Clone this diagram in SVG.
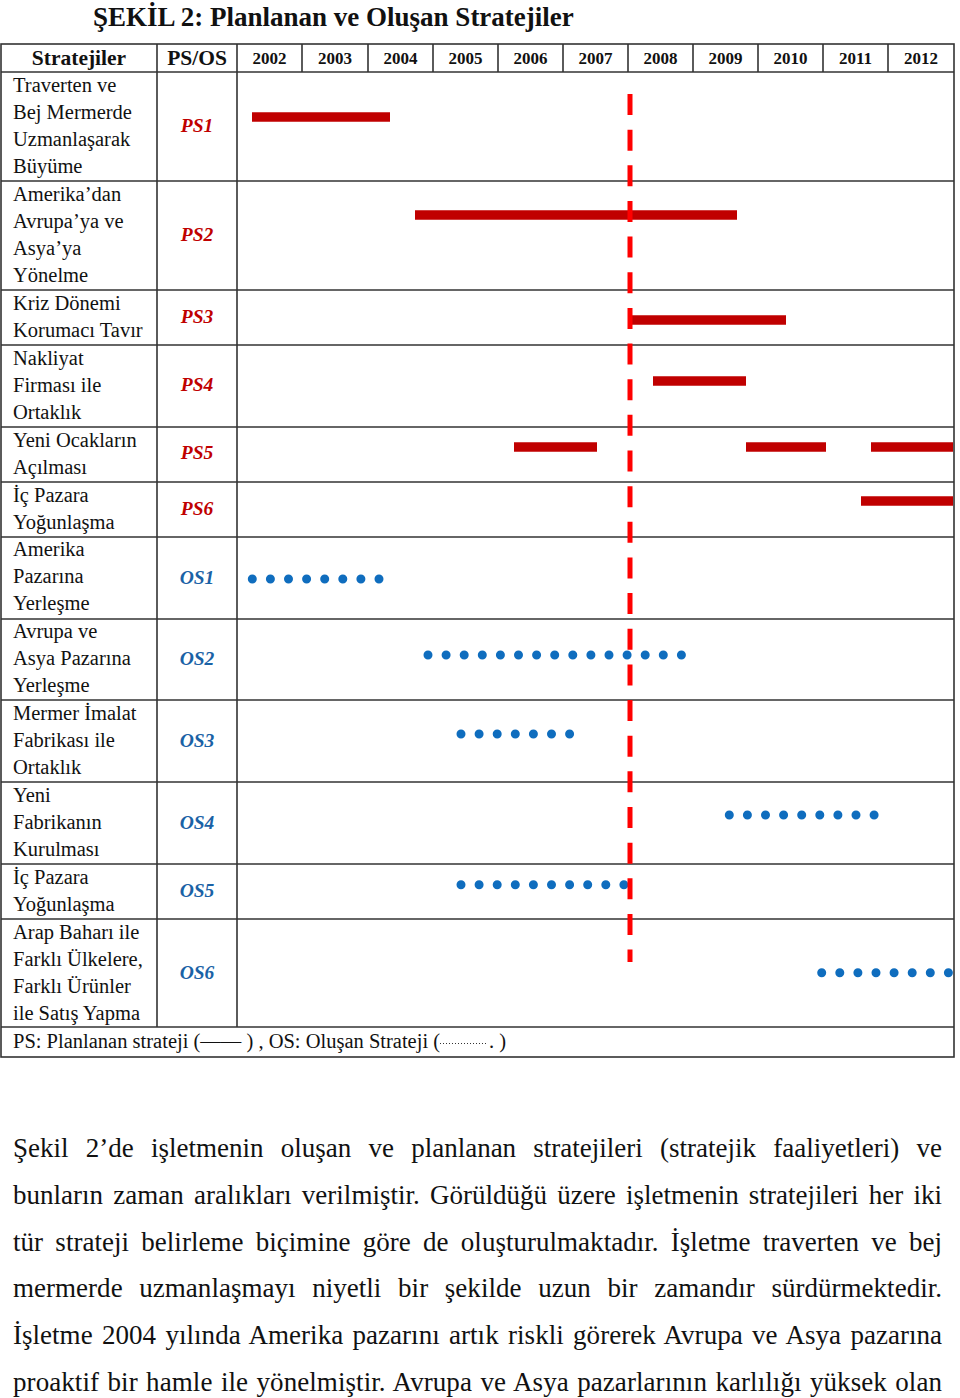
<svg xmlns="http://www.w3.org/2000/svg" width="960" height="1398" viewBox="0 0 960 1398">
<style>
.t{font-family:"Liberation Serif","Times New Roman",serif;fill:#111}
.title{font-size:27px;font-weight:bold}
.hd{font-size:21.5px;font-weight:bold;text-anchor:middle}
.yr{font-size:17px;font-weight:bold;text-anchor:middle}
.cell{font-size:20.5px}
.ps{font-size:19.5px;font-weight:bold;font-style:italic;text-anchor:middle;fill:#C00000}
.os{font-size:19.5px;font-weight:bold;font-style:italic;text-anchor:middle;fill:#1A62A6}
.grid{stroke:#333;stroke-width:1.6;fill:none}
.bar{stroke:#C00000;stroke-width:9.5}
.dots{stroke:#0F6DBE;stroke-width:9;stroke-linecap:round;stroke-dasharray:0 18.1}
.cut{stroke:#FF0000;stroke-width:5;stroke-dasharray:21 14.65}
.para{font-size:27px}
</style>
<text class="t title" x="93" y="26">ŞEKİL 2: Planlanan ve Oluşan Stratejiler</text>
<g id="table-grid">
<rect class="grid" x="1" y="44" width="953" height="1013"/>
<line class="grid" x1="1" y1="72" x2="954" y2="72"/>
<line class="grid" x1="157" y1="44" x2="157" y2="1027"/>
<line class="grid" x1="237" y1="44" x2="237" y2="1027"/>
<line class="grid" x1="302" y1="44" x2="302" y2="72"/>
<line class="grid" x1="368" y1="44" x2="368" y2="72"/>
<line class="grid" x1="433" y1="44" x2="433" y2="72"/>
<line class="grid" x1="498" y1="44" x2="498" y2="72"/>
<line class="grid" x1="563" y1="44" x2="563" y2="72"/>
<line class="grid" x1="628" y1="44" x2="628" y2="72"/>
<line class="grid" x1="693" y1="44" x2="693" y2="72"/>
<line class="grid" x1="758" y1="44" x2="758" y2="72"/>
<line class="grid" x1="823" y1="44" x2="823" y2="72"/>
<line class="grid" x1="888" y1="44" x2="888" y2="72"/>
<line class="grid" x1="1" y1="181" x2="954" y2="181"/>
<line class="grid" x1="1" y1="290" x2="954" y2="290"/>
<line class="grid" x1="1" y1="345" x2="954" y2="345"/>
<line class="grid" x1="1" y1="427" x2="954" y2="427"/>
<line class="grid" x1="1" y1="482" x2="954" y2="482"/>
<line class="grid" x1="1" y1="537" x2="954" y2="537"/>
<line class="grid" x1="1" y1="619" x2="954" y2="619"/>
<line class="grid" x1="1" y1="700" x2="954" y2="700"/>
<line class="grid" x1="1" y1="782" x2="954" y2="782"/>
<line class="grid" x1="1" y1="864" x2="954" y2="864"/>
<line class="grid" x1="1" y1="919" x2="954" y2="919"/>
<line class="grid" x1="1" y1="1027" x2="954" y2="1027"/>
</g>
<g id="header">
<text class="t hd" x="79" y="65">Stratejiler</text>
<text class="t hd" x="197" y="65">PS/OS</text>
<text class="t yr" x="269.5" y="64">2002</text>
<text class="t yr" x="335" y="64">2003</text>
<text class="t yr" x="400.5" y="64">2004</text>
<text class="t yr" x="465.5" y="64">2005</text>
<text class="t yr" x="530.5" y="64">2006</text>
<text class="t yr" x="595.5" y="64">2007</text>
<text class="t yr" x="660.5" y="64">2008</text>
<text class="t yr" x="725.5" y="64">2009</text>
<text class="t yr" x="790.5" y="64">2010</text>
<text class="t yr" x="855.5" y="64">2011</text>
<text class="t yr" x="921" y="64">2012</text>
</g>
<g id="row-ps1"><text class="t cell" x="13" y="92"><tspan x="13">Traverten ve</tspan><tspan x="13" dy="27">Bej Mermerde</tspan><tspan x="13" dy="27">Uzmanlaşarak</tspan><tspan x="13" dy="27">Büyüme</tspan></text><text class="t ps" x="197" y="132">PS1</text></g>
<g id="row-ps2"><text class="t cell" x="13" y="201"><tspan x="13">Amerika’dan</tspan><tspan x="13" dy="27">Avrupa’ya ve</tspan><tspan x="13" dy="27">Asya’ya</tspan><tspan x="13" dy="27">Yönelme</tspan></text><text class="t ps" x="197" y="241">PS2</text></g>
<g id="row-ps3"><text class="t cell" x="13" y="310"><tspan x="13">Kriz Dönemi</tspan><tspan x="13" dy="27">Korumacı Tavır</tspan></text><text class="t ps" x="197" y="323">PS3</text></g>
<g id="row-ps4"><text class="t cell" x="13" y="365"><tspan x="13">Nakliyat</tspan><tspan x="13" dy="27">Firması ile</tspan><tspan x="13" dy="27">Ortaklık</tspan></text><text class="t ps" x="197" y="391">PS4</text></g>
<g id="row-ps5"><text class="t cell" x="13" y="447"><tspan x="13">Yeni Ocakların</tspan><tspan x="13" dy="27">Açılması</tspan></text><text class="t ps" x="197" y="459">PS5</text></g>
<g id="row-ps6"><text class="t cell" x="13" y="502"><tspan x="13">İç Pazara</tspan><tspan x="13" dy="27">Yoğunlaşma</tspan></text><text class="t ps" x="197" y="515">PS6</text></g>
<g id="row-os1"><text class="t cell" x="13" y="556"><tspan x="13">Amerika</tspan><tspan x="13" dy="27">Pazarına</tspan><tspan x="13" dy="27">Yerleşme</tspan></text><text class="t os" x="197" y="584">OS1</text></g>
<g id="row-os2"><text class="t cell" x="13" y="638"><tspan x="13">Avrupa ve</tspan><tspan x="13" dy="27">Asya Pazarına</tspan><tspan x="13" dy="27">Yerleşme</tspan></text><text class="t os" x="197" y="665">OS2</text></g>
<g id="row-os3"><text class="t cell" x="13" y="720"><tspan x="13">Mermer İmalat</tspan><tspan x="13" dy="27">Fabrikası ile</tspan><tspan x="13" dy="27">Ortaklık</tspan></text><text class="t os" x="197" y="747">OS3</text></g>
<g id="row-os4"><text class="t cell" x="13" y="802"><tspan x="13">Yeni</tspan><tspan x="13" dy="27">Fabrikanın</tspan><tspan x="13" dy="27">Kurulması</tspan></text><text class="t os" x="197" y="829">OS4</text></g>
<g id="row-os5"><text class="t cell" x="13" y="884"><tspan x="13">İç Pazara</tspan><tspan x="13" dy="27">Yoğunlaşma</tspan></text><text class="t os" x="197" y="897">OS5</text></g>
<g id="row-os6"><text class="t cell" x="13" y="939"><tspan x="13">Arap Baharı ile</tspan><tspan x="13" dy="27">Farklı Ülkelere,</tspan><tspan x="13" dy="27">Farklı Ürünler</tspan><tspan x="13" dy="27">ile Satış Yapma</tspan></text><text class="t os" x="197" y="979">OS6</text></g>
<g id="connectors">
<g id="planned-bars">
<line class="bar" x1="252" y1="117" x2="390" y2="117"/>
<line class="bar" x1="415" y1="215" x2="737" y2="215"/>
<line class="bar" x1="628" y1="320" x2="786" y2="320"/>
<line class="bar" x1="653" y1="381" x2="746" y2="381"/>
<line class="bar" x1="514" y1="447" x2="597" y2="447"/>
<line class="bar" x1="746" y1="447" x2="826" y2="447"/>
<line class="bar" x1="871" y1="447" x2="953" y2="447"/>
<line class="bar" x1="861" y1="501" x2="953" y2="501"/>
</g>
<g id="emergent-dots">
<line class="dots" x1="252.3" y1="579" x2="379.5" y2="579"/>
<line class="dots" x1="428" y1="655" x2="681.8" y2="655"/>
<line class="dots" x1="461" y1="734" x2="570" y2="734"/>
<line class="dots" x1="729.3" y1="815" x2="874.4" y2="815"/>
<line class="dots" x1="461" y1="884.7" x2="624.2" y2="884.7"/>
<line class="dots" x1="821.7" y1="972.7" x2="948.7" y2="972.7"/>
</g>
<line id="cutoff" class="cut" x1="630" y1="94" x2="630" y2="962"/>
</g>
<g id="legend">
<text class="t cell" x="13" y="1048">PS: Planlanan strateji (—— ) , OS: Oluşan Strateji (</text>
<line x1="440" y1="1043.5" x2="486" y2="1043.5" stroke="#333" stroke-width="1.2" stroke-dasharray="1 2"/>
<text class="t cell" x="489" y="1048">. )</text>
</g>
<g id="paragraph">
<text class="t para" x="13" y="1157" word-spacing="10.5" textLength="929" lengthAdjust="spacing">Şekil 2’de işletmenin oluşan ve planlanan stratejileri (stratejik faaliyetleri) ve</text>
<text class="t para" x="13" y="1204" word-spacing="3.4" textLength="929" lengthAdjust="spacing">bunların zaman aralıkları verilmiştir. Görüldüğü üzere işletmenin stratejileri her iki</text>
<text class="t para" x="13" y="1250.6" word-spacing="5.5" textLength="929" lengthAdjust="spacing">tür strateji belirleme biçimine göre de oluşturulmaktadır. İşletme traverten ve bej</text>
<text class="t para" x="13" y="1297.4" word-spacing="9.9" textLength="929" lengthAdjust="spacing">mermerde uzmanlaşmayı niyetli bir şekilde uzun bir zamandır sürdürmektedir.</text>
<text class="t para" x="13" y="1344" word-spacing="2.6" textLength="929" lengthAdjust="spacing">İşletme 2004 yılında Amerika pazarını artık riskli görerek Avrupa ve Asya pazarına</text>
<text class="t para" x="13" y="1391" word-spacing="1.6" textLength="929" lengthAdjust="spacing">proaktif bir hamle ile yönelmiştir. Avrupa ve Asya pazarlarının karlılığı yüksek olan</text>
</g>
</svg>
